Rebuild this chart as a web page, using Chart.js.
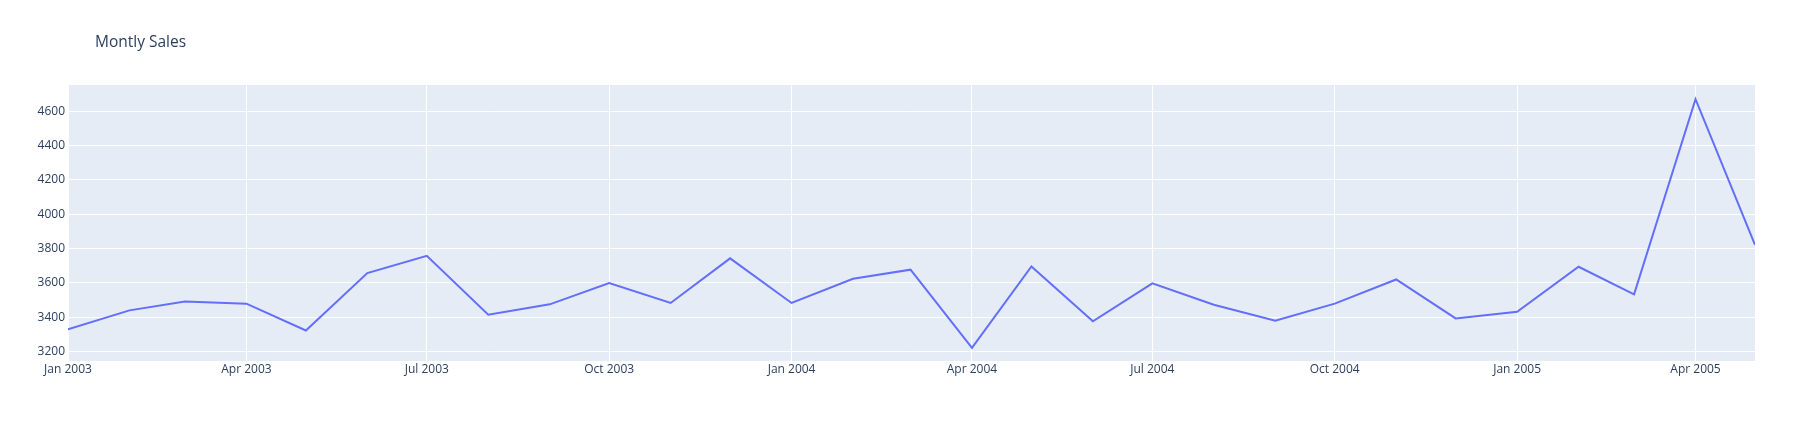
<!DOCTYPE html>
<html>
<head>
<meta charset="utf-8">
<script src="https://cdn.jsdelivr.net/npm/chart.js@4"></script>
<style>
  html, body { margin: 0; padding: 0; background: #fff; }
  canvas { display: block; }
</style>
</head>
<body>
<canvas id="salesChart" width="1818" height="433"></canvas>
<script>
// Datos (un punto por mes)
const months = [
  '2003-01', '2003-02', '2003-03', '2003-04', '2003-05', '2003-06',
  '2003-07', '2003-08', '2003-09', '2003-10', '2003-11', '2003-12',
  '2004-01', '2004-02', '2004-03', '2004-04', '2004-05', '2004-06',
  '2004-07', '2004-08', '2004-09', '2004-10', '2004-11', '2004-12',
  '2005-01', '2005-02', '2005-03', '2005-04', '2005-05'
];
const sales = [
  3329, 3440, 3492, 3479, 3323, 3657,
  3758, 3415, 3475, 3599, 3483, 3743,
  3483, 3624, 3677, 3222, 3696, 3376,
  3597, 3473, 3380, 3479, 3620, 3393,
  3432, 3694, 3533, 4670, 3822
];
const xTickMonths = ['2003-01', '2003-04', '2003-07', '2003-10', '2004-01',
  '2004-04', '2004-07', '2004-10', '2005-01', '2005-04'];
const xTickLabels = ['Jan 2003', 'Apr 2003', 'Jul 2003', 'Oct 2003', 'Jan 2004',
  'Apr 2004', 'Jul 2004', 'Oct 2004', 'Jan 2005', 'Apr 2005'];
const yTicks = [3200, 3400, 3600, 3800, 4000, 4200, 4400, 4600];

const textColor = '#2a3f5f';
const fontFamily = '"Open Sans", verdana, arial, sans-serif';

// días desde el 1 de enero de 2003, para que el eje sea un eje de fechas real
function toDay(ym) {
  const [y, m] = ym.split('-').map(Number);
  return (Date.UTC(y, m - 1, 1) - Date.UTC(2003, 0, 1)) / 86400000;
}
const points = months.map((m, i) => ({ x: toDay(m), y: sales[i] }));

// fondo del área de trazado y título a la izquierda
const plotBackground = {
  id: 'plotBackground',
  beforeDraw(chart) {
    const { ctx, chartArea } = chart;
    ctx.save();
    ctx.fillStyle = '#E5ECF6';
    ctx.fillRect(chartArea.left, chartArea.top, chartArea.right - chartArea.left, chartArea.bottom - chartArea.top);
    ctx.restore();
  },
  afterDraw(chart) {
    const ctx = chart.ctx;
    ctx.save();
    ctx.fillStyle = textColor;
    ctx.font = '15.5px ' + fontFamily;
    ctx.textBaseline = 'alphabetic';
    ctx.fillText('Montly Sales', 95, 46.5);
    ctx.restore();
  }
};

new Chart(document.getElementById('salesChart').getContext('2d'), {
  type: 'line',
  data: {
    datasets: [{
      label: 'Sales',
      data: points,
      borderColor: '#636EFA',
      borderWidth: 2,
      pointRadius: 0,
      fill: false,
      tension: 0
    }]
  },
  options: {
    responsive: false,
    animation: false,
    devicePixelRatio: 1,
    layout: { padding: { top: 85, right: 63, bottom: 0, left: 0 } },
    plugins: {
      legend: { display: false },
      tooltip: { enabled: false }
    },
    scales: {
      x: {
        type: 'linear',
        min: toDay(months[0]),
        max: toDay(months[months.length - 1]),
        border: { display: false },
        grid: { color: '#ffffff', lineWidth: 1, drawTicks: false },
        ticks: {
          autoSkip: false,
          maxRotation: 0,
          padding: 1,
          color: textColor,
          font: { family: fontFamily, size: 12 },
          callback(value) {
            const i = xTickMonths.findIndex(m => toDay(m) === value);
            return i >= 0 ? xTickLabels[i] : null;
          }
        },
        afterBuildTicks(scale) {
          scale.ticks = xTickMonths.map(m => ({ value: toDay(m) }));
        },
        afterFit(scale) { scale.height = 72; }
      },
      y: {
        min: 3145,
        max: 4753,
        border: { display: false },
        grid: { color: '#ffffff', lineWidth: 1, drawTicks: false },
        ticks: {
          padding: 3,
          color: textColor,
          font: { family: fontFamily, size: 12 },
          callback: value => String(value)
        },
        afterBuildTicks(scale) {
          scale.ticks = yTicks.map(v => ({ value: v }));
        },
        afterFit(scale) { scale.width = 68; }
      }
    }
  },
  plugins: [plotBackground]
});
</script>
</body>
</html>
